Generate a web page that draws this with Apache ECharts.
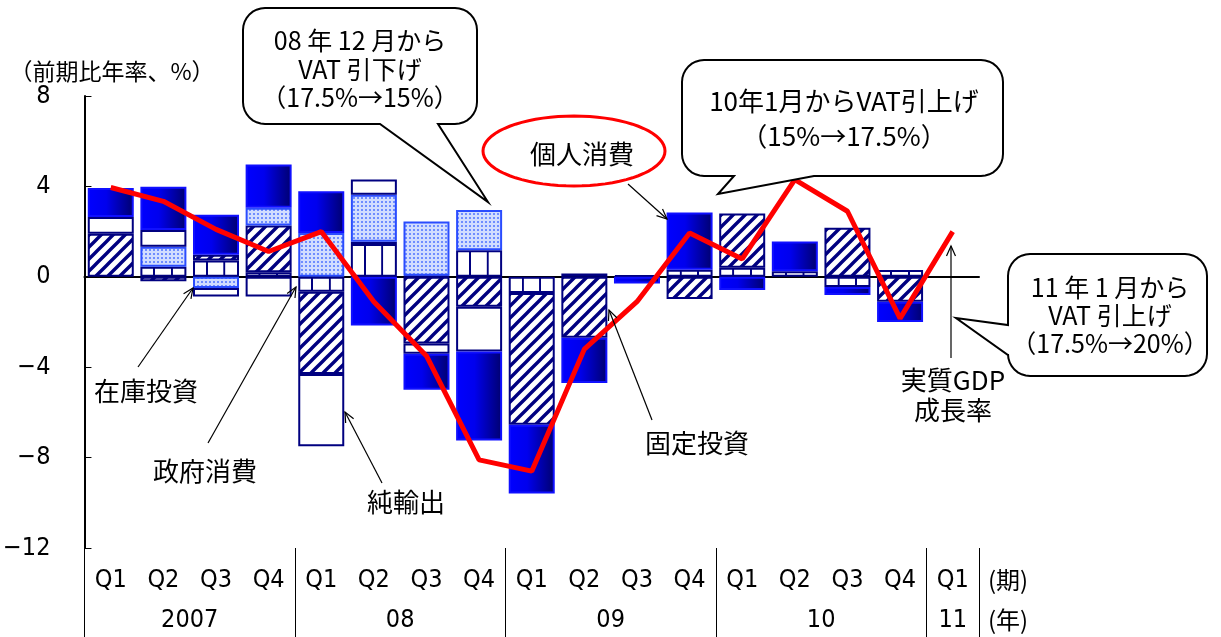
<!DOCTYPE html>
<html><head><meta charset="utf-8">
<script src="https://cdn.jsdelivr.net/npm/echarts@6/dist/echarts.min.js"></script>
<style>html,body{margin:0;padding:0;background:#fff}#c{width:1221px;height:637px}</style>
</head><body><div id="c"></div>
<script>
// ---------- data ----------
const quarters = ['Q1','Q2','Q3','Q4','Q1','Q2','Q3','Q4','Q1','Q2','Q3','Q4','Q1','Q2','Q3','Q4','Q1'];
const yearNames = ['2007','08','09','10','11'];
const yearQuarterCounts = [4,4,4,4,1];
const yMin = -12, yMax = 8, yStep = 4;
// contributions (percentage points, annualised q/q)
const govCons    = [null, 0.45, 0.72, 0.2, -0.66, 1.45, 0.05, 1.18, -0.72, 0.15, 0.08, 0.31, 0.4, 0.25, -0.45, 0.3, null];
const fixedInv   = [1.9, -0.2, 0.26, 2.07, -3.64, 0.1, -2.95, -1.33, -5.83, -2.7, null, -0.98, 2.4, null, 2.17, -1.1, null];
const inventory  = [null, 0.88, -0.5, 0.78, 1.94, 2.08, 2.4, 1.78, null, null, null, null, null, null, null, null, null];
const netExports = [0.75, 0.74, -0.37, -0.87, -3.2, 0.67, -0.45, -1.97, null, null, null, null, null, null, null, null, null];
const privCons   = [1.28, 1.92, 1.77, 1.92, 1.84, -2.15, -1.6, -3.94, -3.04, -2.0, -0.3, 2.54, -0.58, 1.31, -0.35, -0.9, null];
const realGDP    = [3.95, 3.34, 2.1, 1.12, 2.0, -1.1, -3.5, -8.1, -8.6, -3.2, -1.1, 1.94, 0.79, 4.3, 2.9, -1.84, 2.0];

// derived year-group boundaries / centres (in quarter units)
const yearBounds = [0];
yearQuarterCounts.forEach(n => yearBounds.push(yearBounds[yearBounds.length-1] + n));
const yearCenters = yearQuarterCounts.map((n,i) => yearBounds[i] + n/2);

// ---------- layout / styles ----------
const GRID = {left:84, right:242, top:96, bottom:89};
const CHART_W = 1221;
const band = (CHART_W - GRID.left - GRID.right) / quarters.length;
const NUM_FONT = '"Liberation Sans Narrow", "DejaVu Sans Condensed", "Liberation Sans", sans-serif';
const JP_FONT = '"Noto Sans CJK JP", "Noto Sans", sans-serif';
const NAVY = '#000080';

function makeCanvas(w,h,draw){const c=document.createElement('canvas');c.width=w;c.height=h;draw(c.getContext('2d'),w,h);return c;}
const hatch = makeCanvas(12,12,(ctx,w,h)=>{
  ctx.fillStyle='#fff';ctx.fillRect(0,0,w,h);
  ctx.strokeStyle=NAVY;ctx.lineWidth=3.4;ctx.beginPath();
  ctx.moveTo(-6,6);ctx.lineTo(6,-6);ctx.moveTo(0,12);ctx.lineTo(12,0);ctx.moveTo(6,18);ctx.lineTo(18,6);ctx.stroke();
});
const dots = makeCanvas(4,4,(ctx)=>{
  ctx.fillStyle='#d2ddff';ctx.fillRect(0,0,4,4);
  ctx.fillStyle='#6f8dff';ctx.fillRect(1,1,2,2);
});
// vertical cell lines, one third of a category apart, aligned to the category grid
const GP_W = 36;
const gridPat = makeCanvas(GP_W,8,(ctx)=>{
  ctx.fillStyle='#fff';ctx.fillRect(0,0,GP_W,8);
  ctx.fillStyle=NAVY;ctx.fillRect(0,0,4,8);
});
const gridFill = {image:gridPat, repeat:'repeat', x:GRID.left-1, y:0, scaleX:(band/3)/GP_W, scaleY:1};
const blueGrad = new echarts.graphic.LinearGradient(0,0,1,0,[
  {offset:0,color:'#0000ff'},{offset:0.4,color:'#0000ee'},{offset:1,color:'#00006e'}]);

function barSeries(name, data, color, border){
  return {name, type:'bar', stack:'gdp', data, barWidth:46, xAxisIndex:0, yAxisIndex:0,
    itemStyle:{color, borderColor:border, borderWidth:2}, emphasis:{disabled:true}};
}

// ---------- annotation helpers ----------
function arc(cx,cy,r,a0,a1,pts){for(let k=0;k<=8;k++){const a=(a0+(a1-a0)*k/8)*Math.PI/180;pts.push([cx+r*Math.cos(a),cy+r*Math.sin(a)]);}}
function callout(x0,y0,x1,y1,r,tail){
  const p=[];
  arc(x1-r,y0+r,r,-90,0,p);
  arc(x1-r,y1-r,r,0,90,p);
  if(tail.side==='bottom'){p.push([tail.b,y1],tail.tip,[tail.a,y1]);}
  arc(x0+r,y1-r,r,90,180,p);
  if(tail.side==='left'){p.push([x0,tail.b],tail.tip,[x0,tail.a]);}
  arc(x0+r,y0+r,r,180,270,p);
  return {type:'polygon',shape:{points:p},style:{fill:'#fff',stroke:'#000',lineWidth:2},z:90};
}
function txt(x,y,text,size,extra){
  return {type:'text',x,y,z:101,style:Object.assign({text,font:size+'px '+JP_FONT,fill:'#000',
    align:'center',verticalAlign:'middle',textAlign:'center',textVerticalAlign:'middle'},extra||{})};
}
function arrow(x1,y1,x2,y2,head){
  head=head||11;const a=Math.atan2(y2-y1,x2-x1),sp=0.42;
  const p1=[x2-head*Math.cos(a-sp),y2-head*Math.sin(a-sp)],p2=[x2-head*Math.cos(a+sp),y2-head*Math.sin(a+sp)];
  return [{type:'line',shape:{x1,y1,x2,y2},style:{stroke:'#000',lineWidth:1.2},z:100},
          {type:'polyline',shape:{points:[p1,[x2,y2],p2]},style:{stroke:'#000',lineWidth:1.2,fill:null},z:100}];
}
function ellipsePts(cx,cy,rx,ry){const p=[];for(let k=0;k<72;k++){const a=k/72*2*Math.PI;p.push([cx+rx*Math.cos(a),cy+ry*Math.sin(a)]);}return p;}

const graphics = [
  txt(112,71,'（前期比年率、%）',23),
  txt(1008,580,'(期)',24), txt(1008,620,'(年)',24),
  callout(243,8,477,124,22,{side:'bottom',a:380,b:438,tip:[488,202]}),
  txt(360,69,'08 年 12 月から\nVAT 引下げ\n（17.5%→15%）',25,{lineHeight:28.5}),
  callout(682,60,1003,176,22,{side:'bottom',a:734,b:814,tip:[718,194]}),
  txt(844,101,'10年1月からVAT引上げ',26), txt(844,136,'（15%→17.5%）',26),
  callout(1008,254,1207,376,22,{side:'left',a:325,b:355,tip:[956,318]}),
  txt(1110,315,'11 年 1 月から\nVAT 引上げ\n（17.5%→20%）',25,{lineHeight:28}),
  {type:'polygon',shape:{points:ellipsePts(574,151,91,35)},style:{fill:null,stroke:'#ff0000',lineWidth:3},z:100},
  txt(582,154,'個人消費',26),
  ...arrow(628,184,667,219),
  txt(146,391,'在庫投資',26), ...arrow(138,367,193,288),
  txt(205,471,'政府消費',26), ...arrow(208,443,296,287),
  txt(406,502,'純輸出',26), ...arrow(382,483,345,412),
  txt(697,443,'固定投資',26), ...arrow(652,420,609,310),
  txt(953,380,'実質GDP',26), txt(953,410,'成長率',26), ...arrow(951,358,951,246)
];

const chart = echarts.init(document.getElementById('c'), null, {renderer:'canvas'});
chart.setOption({
  animation:false,
  grid:GRID,
  xAxis:[
    {type:'category',data:quarters,axisLine:{onZero:true,lineStyle:{color:'#000',width:2}},axisTick:{show:false},axisLabel:{show:false}},
    {type:'category',data:quarters,position:'bottom',axisLine:{show:false,onZero:false},axisTick:{show:false},
      axisLabel:{interval:0,margin:20,fontSize:25,color:'#000',fontFamily:NUM_FONT}},
    {type:'value',min:0,max:quarters.length,position:'bottom',axisLine:{show:false,onZero:false},splitLine:{show:false},
      axisTick:{show:true,customValues:yearBounds,length:89,lineStyle:{color:'#000',width:1}},
      axisLabel:{customValues:yearCenters,formatter:v=>yearNames[yearCenters.indexOf(v)],margin:60,fontSize:25,color:'#000',fontFamily:NUM_FONT}}
  ],
  yAxis:{type:'value',min:yMin,max:yMax,interval:yStep,
    axisLine:{show:true,onZero:false,lineStyle:{color:'#000',width:2}},
    axisTick:{show:true,inside:true,length:7,lineStyle:{color:'#000',width:1}},
    splitLine:{show:false},
    axisLabel:{margin:34,fontSize:25,color:'#000',fontFamily:NUM_FONT,formatter:v=>v<0?'\u2212'+Math.abs(v):String(v)}},
  series:[
    barSeries('政府消費',govCons,gridFill,NAVY),
    barSeries('固定投資',fixedInv,{image:hatch,repeat:'repeat'},NAVY),
    barSeries('在庫投資',inventory,{image:dots,repeat:'repeat'},'#2a4cff'),
    barSeries('純輸出',netExports,'#ffffff',NAVY),
    barSeries('個人消費',privCons,blueGrad,'#1010ff'),
    {name:'実質GDP成長率',type:'line',data:realGDP,xAxisIndex:0,yAxisIndex:0,symbol:'none',
      lineStyle:{color:'#ff0000',width:5},itemStyle:{color:'#ff0000'},z:5,emphasis:{disabled:true}}
  ],
  graphic:graphics
});
</script></body></html>
